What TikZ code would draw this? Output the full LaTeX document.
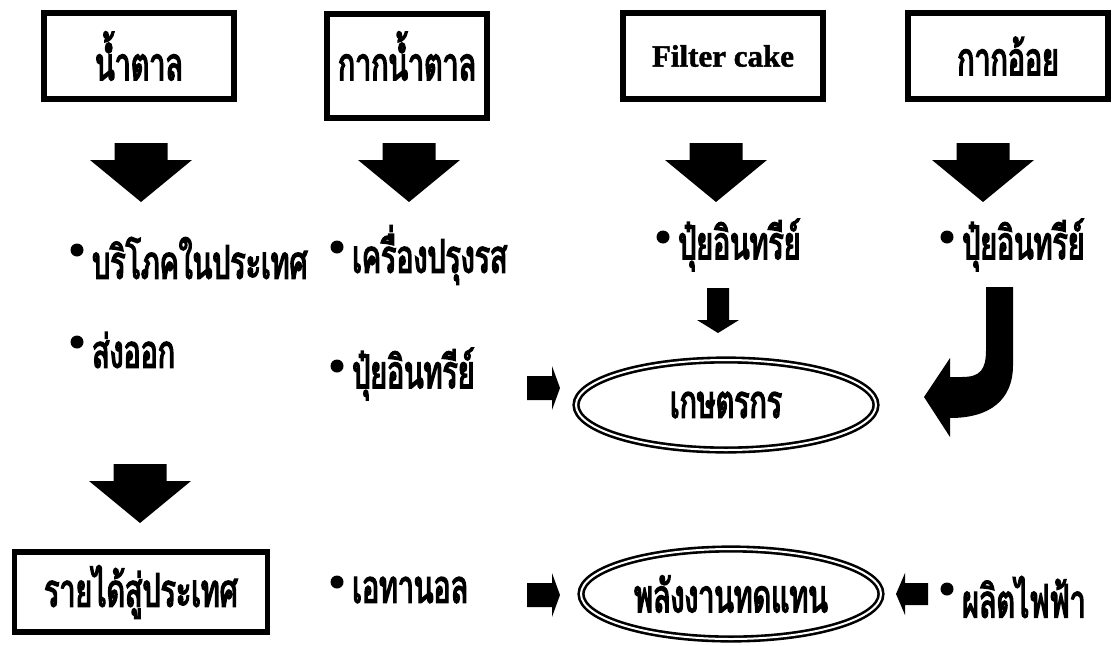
\documentclass[tikz,border=0pt]{standalone}
\usepackage{fontspec}
\setmainfont{Liberation Serif}
\newfontfamily\thai[Script=Thai, FakeStretch=0.62, FakeBold=3]{Loma}
\newfontfamily\boxserif[FakeBold=1.5]{Liberation Serif Bold}
\usetikzlibrary{shapes.geometric}
\begin{document}
\begin{tikzpicture}[x=1pt, y=-1pt,
  srcbox/.style={draw, line width=5.5pt, inner sep=0pt},
  thaitext/.style={font=\thai\fontsize{46}{46}\selectfont, inner sep=0pt},
  item/.style={thaitext, anchor=west},
  hub/.style={ellipse, draw, line width=2.6pt, double=white, double distance=2pt,
              minimum width=300pt, minimum height=90pt, inner sep=0pt,
              font=\thai\fontsize{46}{46}\selectfont},
  blk/.style={fill=black}]
\useasboundingbox (0,0) rectangle (1118,645);

% ---- source boxes
\node[srcbox, minimum width=190pt, minimum height=86pt] (sugar)   at (139,56) {};
\node[thaitext] at (sugar) {น้ำตาล};
\node[srcbox, minimum width=160pt, minimum height=104pt] (molas) at (407,66) {};
\node[thaitext] at (407,56) {กากน้ำตาล};
\node[srcbox, minimum width=200pt, minimum height=86pt] (fcake)  at (723,56) {};
\node[font=\boxserif\fontsize{31}{31}\selectfont] at (fcake) {Filter cake};
\node[srcbox, minimum width=200pt, minimum height=86pt] (bagas)  at (1008,56) {};
\node[thaitext] at (bagas) {กากอ้อย};
\node[srcbox, minimum width=253pt, minimum height=80pt] (income) at (141,592) {};
\node[thaitext] at (income) {รายได้สู่ประเทศ};

% ---- big down arrows: \bigdown{centre x}{top y}
\newcommand\bigdown[2]{%
  \fill[blk] (#1-26.5,#2) -- (#1+26.5,#2) -- (#1+26.5,#2+17) -- (#1+51,#2+17)
    -- (#1,#2+59) -- (#1-51,#2+17) -- (#1-26.5,#2+17) -- cycle;}
\bigdown{141}{143}
\bigdown{409}{143}
\bigdown{716}{143}
\bigdown{983}{143}
\bigdown{140}{464}

% ---- products
\node[item] (dom)  at (92,258)  {บริโภคในประเทศ};
\node[item] (seas) at (352,255) {เครื่องปรุงรส};
\node[item] (fer3) at (678,245) {ปุ๋ยอินทรีย์};
\node[item] (fer4) at (962,245) {ปุ๋ยอินทรีย์};
\node[item] (exp)  at (92,350)  {ส่งออก};
\node[item] (fer2) at (352,374) {ปุ๋ยอินทรีย์};
\node[item] (eth)  at (352,590) {เอทานอล};
\node[item] (elec) at (962,597) {ผลิตไฟฟ้า};
\foreach \n in {dom,seas,fer3,fer4,exp,fer2,eth,elec}
  \fill (\n.west) ++(-15,-8) circle (6.5);

% ---- hubs
\node[hub] (farmer) at (726,405) {เกษตรกร};
\node[hub] (energy) at (731,594) {พลังงานทดแทน};

% ---- small block arrows
% fertiliser down to farmer
\fill[blk] (707,288) -- (729,288) -- (729,320) -- (739,320) -- (718,333)
  -- (697,320) -- (707,320) -- cycle;
% fertiliser right to farmer
\fill[blk] (527,376) -- (552,376) -- (552,366) -- (560,388) -- (552,410)
  -- (552,400) -- (527,400) -- cycle;
% ethanol right to energy
\fill[blk] (527,583) -- (552,583) -- (552,573) -- (560,595) -- (552,617)
  -- (552,607) -- (527,607) -- cycle;
% electricity left to energy
\fill[blk] (928,583) -- (905,583) -- (905,573) -- (896,594) -- (905,615)
  -- (905,605) -- (928,605) -- cycle;
% bagasse fertiliser bending round to farmer
\fill[blk] (986,287) -- (1013,287) -- (1013,365)
  .. controls (1013,400) and (990,418) .. (950,418)
  -- (950,437) -- (924,397) -- (950,358) -- (950,377) -- (962,377)
  .. controls (980,377) and (986,370) .. (986,350) -- cycle;
\end{tikzpicture}
\end{document}
